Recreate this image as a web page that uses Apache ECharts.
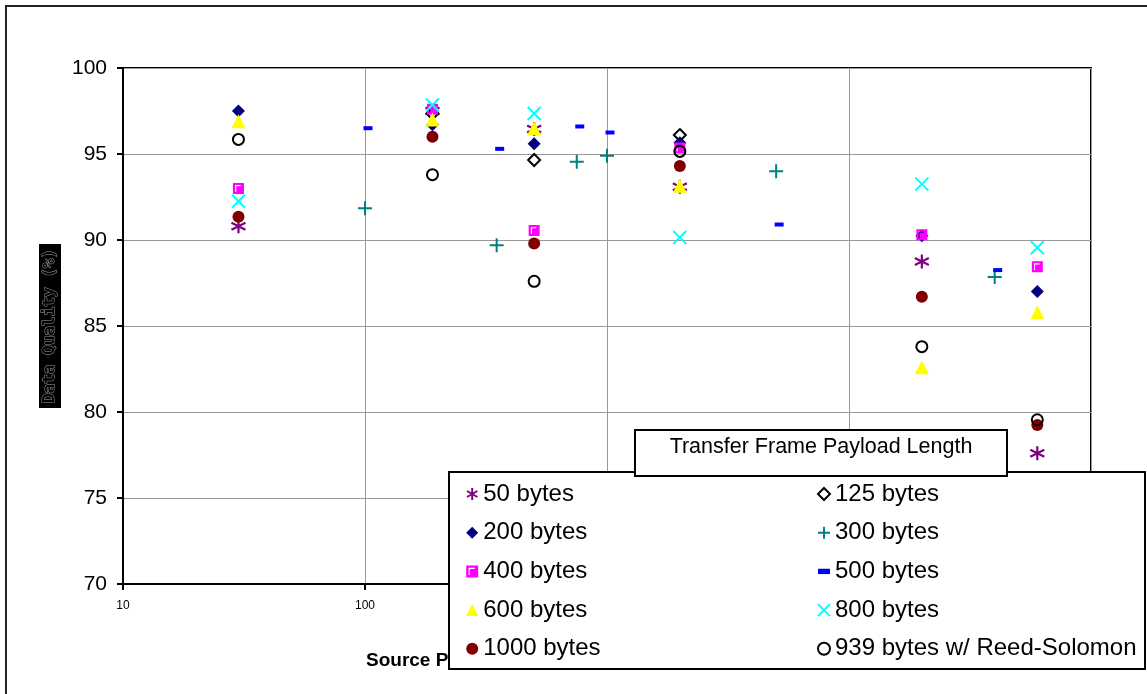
<!DOCTYPE html>
<html>
<head>
<meta charset="utf-8">
<title>Data Quality vs Source Packet Rate</title>
<script src="https://cdn.jsdelivr.net/npm/echarts@6/dist/echarts.min.js"></script>
<style>
  html, body { margin: 0; padding: 0; background: #fff; }
  #main { width: 1147px; height: 694px; }
</style>
</head>
<body>
<div id="main"></div>
<script>
// x positions (log scale)
var xMain = [30, 190, 500, 2000, 20000, 60000];
var xAlt = [100, 350, 750, 1000, 5000, 40000];   // used by 300 / 500 bytes

// data quality (%), null = no point
var q50   = [90.8, 97.5, 96.45, 93.1, 88.75, 77.6];
var q125  = [null, 97.35, 94.65, 96.1, null, null];
var q200  = [97.5, 96.7, 95.6, 95.65, 90.25, 87.0];
var q300  = [91.85, 89.7, 94.55, 94.9, 94.0, 87.85];
var q400  = [93.0, 97.6, 90.55, 95.35, 90.3, 88.45];
var q500  = [96.5, 95.3, 96.6, 96.25, 90.9, 88.25];
var q600  = [96.9, 97.0, 96.5, 93.15, 82.6, 85.8];
var q800  = [92.25, 97.85, 97.35, 90.15, 93.25, 89.55];
var q1000 = [91.35, 96.0, 89.8, 94.3, 86.7, 79.25];
var q939  = [95.85, 93.8, 87.6, 95.15, 83.8, 79.55];

var yTicks = [70, 75, 80, 85, 90, 95, 100];

function pairs(xs, ys) {
    var out = [];
    for (var i = 0; i < xs.length; i++) {
        if (ys[i] != null) out.push([xs[i], ys[i]]);
    }
    return out;
}

var none = 'rgba(0,0,0,0)';

var seriesDefs = [
    { name: '50 bytes', data: pairs(xMain, q50), symbol: 'path://M5,0V10M0.67,2.5L9.33,7.5M0.67,7.5L9.33,2.5',
      size: 14, itemStyle: { color: none, borderColor: '#800080', borderWidth: 2.2 } },
    { name: '125 bytes', data: pairs(xMain, q125), symbol: 'diamond',
      size: 12, itemStyle: { color: none, borderColor: '#000', borderWidth: 2 } },
    { name: '200 bytes', data: pairs(xMain, q200), symbol: 'diamond',
      size: 13, itemStyle: { color: '#000080' } },
    { name: '300 bytes', data: pairs(xAlt, q300), symbol: 'path://M5,0V10M0,5H10',
      size: 14, itemStyle: { color: none, borderColor: '#008080', borderWidth: 2 } },
    // magenta square with the little white corner mark
    { name: '400 bytes', data: pairs(xMain, q400), symbol: 'path://M0,0H10V10H0ZM2,2V8H3V3H7V2Z',
      size: 11, itemStyle: { color: '#ff00ff' } },
    { name: '500 bytes', data: pairs(xAlt, q500), symbol: 'path://M0,0H9V4H0Z',
      size: [9, 4], offset: [3, 0], itemStyle: { color: '#0000ff' } },
    { name: '600 bytes', data: pairs(xMain, q600), symbol: 'triangle',
      size: 14, itemStyle: { color: '#ffff00' } },
    { name: '800 bytes', data: pairs(xMain, q800), symbol: 'path://M0,0L10,10M0,10L10,0',
      size: 13, itemStyle: { color: none, borderColor: '#00ffff', borderWidth: 2 } },
    { name: '1000 bytes', data: pairs(xMain, q1000), symbol: 'circle',
      size: 12, itemStyle: { color: '#800000' } },
    { name: '939 bytes w/ Reed-Solomon', data: pairs(xMain, q939), symbol: 'circle',
      size: 11, itemStyle: { color: none, borderColor: '#000', borderWidth: 2 } }
];

var series = seriesDefs.map(function (s) {
    s.itemStyle.opacity = 1;
    return {
        name: s.name,
        type: 'scatter',
        data: s.data,
        symbol: s.symbol,
        symbolSize: s.size,
        symbolOffset: s.offset || [0, 0],
        itemStyle: s.itemStyle,
        emphasis: { disabled: true },
        animation: false
    };
});

var font = '"Liberation Sans", Arial, sans-serif';

var legendCommon = {
    orient: 'vertical',
    top: 477,
    itemWidth: 12,
    itemHeight: 12,
    itemGap: 14.7,
    z: 10,
    selectedMode: false,
    textStyle: { fontFamily: font, fontSize: 24, color: '#000', lineHeight: 24 }
};

var myChart = echarts.init(document.getElementById('main'));

var option = {
    backgroundColor: '#fff',
    animation: false,
    grid: {
        left: 123, right: 56, top: 68, bottom: 110,
        show: true, borderColor: '#000', borderWidth: 2, backgroundColor: 'transparent'
    },
    xAxis: {
        type: 'log',
        logBase: 10,
        min: 10,
        max: 100000,
        axisLine: { lineStyle: { color: '#000', width: 2 } },
        axisTick: { show: true, length: 6, lineStyle: { color: '#000', width: 2 } },
        axisLabel: { fontFamily: font, fontSize: 12, color: '#000', margin: 16 },
        splitLine: { show: true, lineStyle: { color: '#999', width: 1 } },
        minorTick: { show: false }
    },
    yAxis: {
        type: 'value',
        min: yTicks[0],
        max: yTicks[yTicks.length - 1],
        interval: 5,
        name: 'Data Quality (%)',
        nameLocation: 'middle',
        nameRotate: 90,
        nameGap: 62,
        nameTextStyle: {
            fontFamily: '"DejaVu Sans Mono", monospace',
            fontWeight: 'bold',
            fontSize: 16,
            color: '#000',
            textBorderColor: '#9a9a9a',
            textBorderWidth: 1,
            backgroundColor: '#000',
            padding: [3, 5, 3, 5]
        },
        axisLine: { show: true, lineStyle: { color: '#000', width: 2 } },
        axisTick: { show: true, length: 6, lineStyle: { color: '#000', width: 2 } },
        axisLabel: { fontFamily: font, fontSize: 21, color: '#000', margin: 16 },
        splitLine: { show: true, lineStyle: { color: '#999', width: 1 } }
    },
    legend: [
        Object.assign({}, legendCommon, {
            left: 461,
            data: ['50 bytes', '200 bytes', '400 bytes', '600 bytes', '1000 bytes']
        }),
        Object.assign({}, legendCommon, {
            left: 812,
            data: ['125 bytes', '300 bytes', '500 bytes', '800 bytes', '939 bytes w/ Reed-Solomon']
        })
    ],
    graphic: [
        {   // outer chart frame
            type: 'rect', silent: true, z: 1,
            shape: { x: 6, y: 6, width: 1160, height: 710 },
            style: { fill: 'none', stroke: '#222', lineWidth: 2 }
        },
        {   // x axis title (mostly covered by the legend)
            type: 'text', silent: true, z: 1,
            style: {
                x: 366, y: 661,
                text: 'Source Packet Generation Rate Using Large Frames (pps)',
                font: 'bold 19px ' + font,
                fill: '#000',
                verticalAlign: 'middle'
            }
        },
        {   // legend box
            type: 'rect', silent: true, z: 5,
            shape: { x: 449, y: 472, width: 696, height: 197 },
            style: { fill: '#fff', stroke: '#000', lineWidth: 2 }
        },
        {   // legend title box
            type: 'rect', silent: true, z: 6,
            shape: { x: 635, y: 430, width: 372, height: 46 },
            style: { fill: '#fff', stroke: '#000', lineWidth: 2 }
        },
        {
            type: 'text', silent: true, z: 7,
            style: {
                x: 821, y: 447,
                text: 'Transfer Frame Payload Length',
                font: '21.5px ' + font,
                fill: '#000',
                align: 'center',
                verticalAlign: 'middle'
            }
        }
    ],
    series: series
};

myChart.setOption(option);
</script>
</body>
</html>
